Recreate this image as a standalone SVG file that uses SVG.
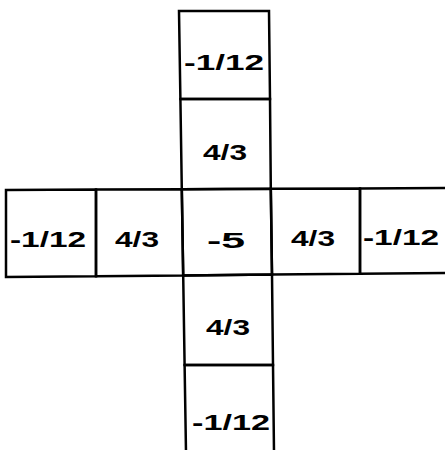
<svg xmlns="http://www.w3.org/2000/svg" width="445" height="450" viewBox="0 0 445 450">
<style>
.c{fill:none;stroke:#000;stroke-width:2.5;stroke-linejoin:miter}
.t{font-family:"Liberation Sans",Arial,sans-serif;font-weight:bold;font-size:22px;text-anchor:middle;fill:#000}
</style>
<rect width="445" height="450" fill="#fff"/>
<g id="top2"><path class="c" d="M179,11H269L270,99H180.4Z"/><text class="t" x="224" y="70" textLength="80" lengthAdjust="spacingAndGlyphs">-1/12</text></g>
<g id="top1"><path class="c" d="M180.4,99H270L270.8,188.8L181.8,189.2Z"/><text class="t" x="225" y="160" textLength="44" lengthAdjust="spacingAndGlyphs">4/3</text></g>
<g id="center"><path class="c" d="M181.8,189.2L270.8,188.8L272,274.6L183.2,275.4Z"/><text class="t" x="226" y="248" textLength="38" lengthAdjust="spacingAndGlyphs">-5</text></g>
<g id="left2"><path class="c" d="M6,190L96,189.6V276.2L6,277Z"/><text class="t" x="48" y="247" textLength="76" lengthAdjust="spacingAndGlyphs">-1/12</text></g>
<g id="left1"><path class="c" d="M96,189.6L181.8,189.2L183.2,275.4L96,276.2Z"/><text class="t" x="137" y="247" textLength="44" lengthAdjust="spacingAndGlyphs">4/3</text></g>
<g id="right1"><path class="c" d="M270.8,188.8L360,188.4V273.8L272,274.6Z"/><text class="t" x="313" y="246" textLength="44" lengthAdjust="spacingAndGlyphs">4/3</text></g>
<g id="right2"><path class="c" d="M446,188L360,188.4V273.8L446,273"/><text class="t" x="401" y="245" textLength="76" lengthAdjust="spacingAndGlyphs">-1/12</text></g>
<g id="bottom1"><path class="c" d="M183.2,275.4L272,274.6L273,365H184.6Z"/><text class="t" x="228" y="335" textLength="44" lengthAdjust="spacingAndGlyphs">4/3</text></g>
<g id="bottom2"><path class="c" d="M186,452L184.6,365H273L274,452"/><text class="t" x="231" y="430" textLength="78" lengthAdjust="spacingAndGlyphs">-1/12</text></g>
<g id="connectors"/>
</svg>
